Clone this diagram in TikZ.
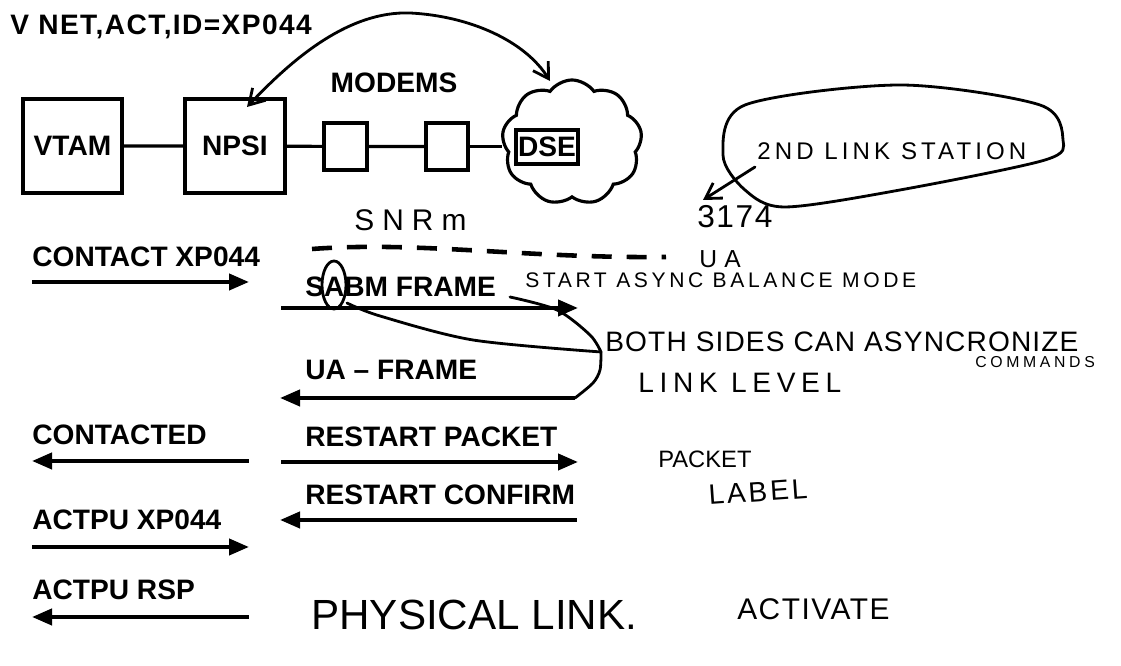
\documentclass[tikz,border=0pt]{standalone}
\usepackage{fontspec}
\setmainfont{Liberation Sans}
\newfontfamily\handfont{Liberation Sans}
\usetikzlibrary{arrows.meta,shapes.symbols}

% handwritten notes: size, letter spacing
\newcommand\hw[2]{\handfont\fontsize{#1}{#1}\selectfont\addfontfeature{LetterSpace=#2}}

\begin{document}
\begin{tikzpicture}[>={Triangle[length=0.4cm,width=0.32cm]},
                box/.style={rectangle, draw, line width=1.8pt, inner sep=0pt, font=\bfseries\fontsize{16}{18}\selectfont},
                lbl/.style={anchor=base west, inner sep=0pt, font=\bfseries\fontsize{16}{18}\selectfont},
                hand/.style={anchor=base west, inner sep=0pt},
                msg/.style={line width=2.3pt},
                wire/.style={line width=1.8pt},
                pen/.style={line width=1.6pt, line cap=round, line join=round},
                barb/.style={-{Straight Barb[length=0.3cm,width=0.36cm]}}
            ]

            \useasboundingbox (0,0) rectangle (22.42,13.32);

            % Command
            \node[lbl, font=\bfseries\fontsize{16}{18}\selectfont\addfontfeature{LetterSpace=5}] (cmd) at (0.20, 12.62) {V NET,ACT,ID=XP044};

            % Boxes and modems
            \node[box, minimum width=1.98cm, minimum height=1.88cm] (vtam) at (1.45, 10.40) {VTAM};
            \node[box, minimum width=2.0cm, minimum height=1.88cm] (npsi) at (4.70, 10.40) {NPSI};
            \node[box, minimum width=0.86cm, minimum height=0.94cm] (modemA) at (6.91, 10.39) {};
            \node[box, minimum width=0.84cm, minimum height=0.94cm] (modemB) at (8.94, 10.39) {};
            \node[lbl, anchor=center] (modems) at (7.88, 11.66) {MODEMS};

            % DSE cloud
            \node[cloud, draw, line width=1.8pt, cloud puffs=9, cloud puff arc=110,
                  minimum width=2.8cm, minimum height=2.5cm] (dsenet) at (11.44, 10.47) {};
            \node[box, fill=white, minimum width=1.24cm, minimum height=0.68cm] (dse) at (10.94, 10.38) {DSE};

            \draw[wire] (vtam) -- (npsi) -- (modemA) -- (modemB);
            \draw[wire] (modemB.east) -- (modemB.east -| dsenet.west);

            % Arc between NPSI and DSE
            \coordinate (arcA) at (4.94, 11.18);
            \coordinate (arcTop) at (8.2, 13.06);
            \coordinate (arcB) at (11.0, 11.70);
            \draw[pen, {Straight Barb[length=0.3cm,width=0.36cm]}-{Straight Barb[length=0.3cm,width=0.36cm]}]
                (arcA) .. controls (5.9, 12.2) and (7.0, 13.1) .. (arcTop)
                       .. controls (9.4, 13.0) and (10.5, 12.5) .. (arcB);

            % 2nd link station
            \draw[pen] plot[smooth cycle] coordinates {(14.46,10.22) (14.9,11.22) (18.0,11.62) (20.8,11.22)
                (21.26,10.52) (20.9,10.12) (18.0,9.52) (15.7,9.18) (14.9,9.52)};
            \node[hand, font=\hw{13.7}{17}] (station) at (15.14, 10.12) {2ND LINK STATION};
            \node[hand, font=\hw{18}{5}] (cu) at (13.94, 8.76) {3174};
            \coordinate (stationA) at (15.10, 9.98);
            \coordinate (stationB) at (14.06, 9.32);
            \draw[pen, barb] (stationA) -- (stationB);

            % SNRM / UA
            \node[hand, font=\hw{17}{27}] (snrm) at (7.08, 8.70) {SNRm};
            \coordinate (snrmA) at (6.24, 8.34);
            \coordinate (snrmB) at (13.32, 8.18);
            \draw[line width=2.6pt, dash pattern=on 0.4cm off 0.3cm]
                (snrmA) .. controls (8.4, 8.5) and (10.5, 8.15) .. (snrmB);
            \node[hand, font=\hw{14}{30}] (ua) at (13.98, 7.96) {UA};

            % Left column
            \node[lbl] (contact) at (0.64, 7.98) {CONTACT XP044};
            \coordinate (contactA) at (0.64, 7.68);
            \coordinate (contactB) at (4.98, 7.68);
            \draw[msg, ->] (contactA) -- (contactB);

            \node[lbl] (contacted) at (0.64, 4.42) {CONTACTED};
            \coordinate (contactedA) at (0.64, 4.10);
            \coordinate (contactedB) at (4.98, 4.10);
            \draw[msg, <-] (contactedA) -- (contactedB);

            \node[lbl] (actpu) at (0.64, 2.72) {ACTPU XP044};
            \coordinate (actpuA) at (0.64, 2.38);
            \coordinate (actpuB) at (4.98, 2.38);
            \draw[msg, ->] (actpuA) -- (actpuB);

            \node[lbl] (actpursp) at (0.64, 1.32) {ACTPU RSP};
            \coordinate (actpurspA) at (0.64, 0.98);
            \coordinate (actpurspB) at (4.98, 0.98);
            \draw[msg, <-] (actpurspA) -- (actpurspB);

            % Right column
            \node[lbl] (sabm) at (6.10, 7.38) {SABM FRAME};
            \coordinate (sabmA) at (5.62, 7.16);
            \coordinate (sabmB) at (11.56, 7.16);
            \draw[msg, ->] (sabmA) -- (sabmB);

            \node[lbl] (uaframe) at (6.10, 5.72) {UA -- FRAME};
            \coordinate (uaframeA) at (5.60, 5.36);
            \coordinate (uaframeB) at (11.50, 5.36);
            \draw[msg, <-] (uaframeA) -- (uaframeB);

            \node[lbl] (rpacket) at (6.10, 4.38) {RESTART PACKET};
            \coordinate (rpacketA) at (5.62, 4.08);
            \coordinate (rpacketB) at (11.56, 4.08);
            \draw[msg, ->] (rpacketA) -- (rpacketB);

            \node[lbl] (rconfirm) at (6.10, 3.22) {RESTART CONFIRM};
            \coordinate (rconfirmA) at (5.60, 2.92);
            \coordinate (rconfirmB) at (11.54, 2.92);
            \draw[msg, <-] (rconfirmA) -- (rconfirmB);

            % Notes on SABM / UA
            \draw[pen] (6.68, 7.62) ellipse (0.24 and 0.48);
            \coordinate (junction) at (12.02, 6.28);
            \draw[pen] plot[smooth] coordinates {(6.94,7.26) (7.6,7.0) (9.46,6.52) (junction)};
            \draw[pen] plot[smooth] coordinates {(10.20,7.38) (11.14,7.12) (11.80,6.62) (junction)};
            \draw[pen] plot[smooth] coordinates {(junction) (12.0,5.92) (11.86,5.66) (uaframeB)};

            \node[hand, font=\hw{12}{17}] (sabmnote) at (10.50, 7.56) {START ASYNC BALANCE MODE};
            \node[hand, font=\hw{16}{4}] (bothsides) at (12.10, 6.28) {BOTH SIDES CAN ASYNCRONIZE};
            \node[hand, font=\hw{9}{23}] (commands) at (19.50, 5.96) {COMMANDS};
            \node[hand, font=\hw{16}{20}] (linklevel) at (12.76, 5.46) {LINK LEVEL};

            % Packet label
            \node[hand, font=\hw{13.5}{0}] (packet) at (13.16, 3.96) {PACKET};
            \node[hand, font=\hw{16}{10}, rotate=4] (plabel) at (14.18, 3.22) {LABEL};

            % Bottom notes
            \node[hand, font=\hw{24}{0}] (physlink) at (6.22, 0.72) {PHYSICAL LINK.};
            \node[hand, font=\hw{17}{5}] (activate) at (14.74, 0.92) {ACTIVATE};

        \end{tikzpicture}
\end{document}
